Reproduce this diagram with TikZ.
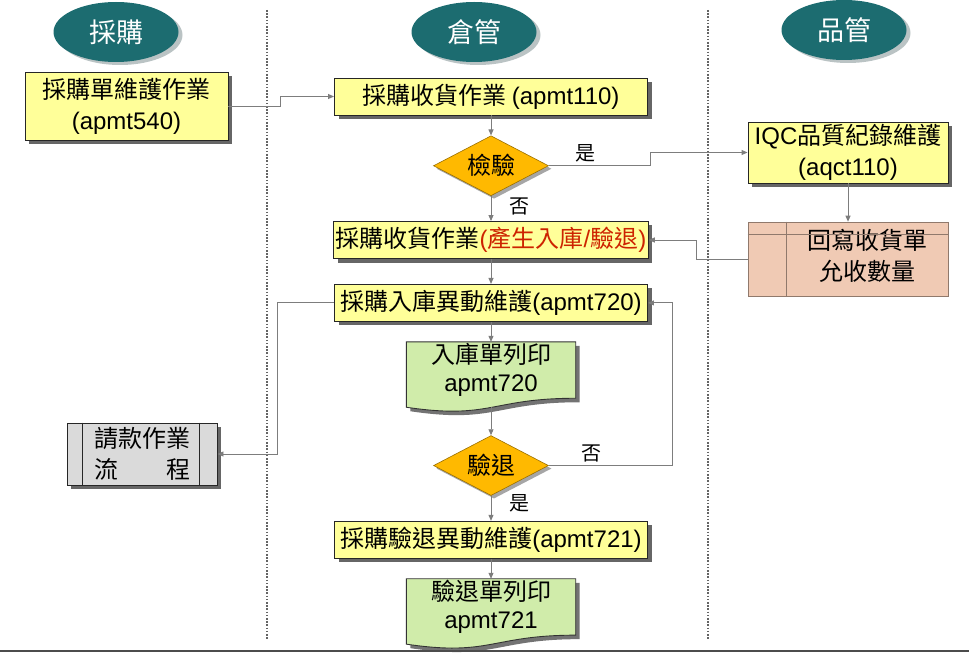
\documentclass[tikz,border=0pt]{standalone}
\usepackage{fontspec}
\setmainfont{Noto Sans CJK TC}
\newfontfamily\lat{Liberation Sans}
\usetikzlibrary{positioning,arrows.meta,shapes.geometric,shadows,calc,backgrounds}
\definecolor{FlowTeal}{RGB}{28,108,112}
\definecolor{FlowYellow}{RGB}{255,255,153}
\definecolor{FlowOrange}{RGB}{255,185,0}
\definecolor{FlowGreen}{RGB}{208,236,170}
\definecolor{FlowPink}{RGB}{240,202,180}
\definecolor{FlowGray}{RGB}{218,218,218}
\definecolor{FlowLine}{RGB}{125,125,125}
\definecolor{FlowRed}{RGB}{205,35,0}
\tikzset{
  flow shadow/.style={drop shadow={shadow xshift=4pt, shadow yshift=-4pt, fill=black!60, opacity=1}},
  flow box/.style={
    draw=black!85,
    line width=0.9pt,
    align=center,
    font=\fontsize{24}{31}\selectfont,
    inner sep=2pt
  },
  flow task/.style={flow box, fill=FlowYellow, flow shadow, minimum height=37pt},
  flow lane/.style={ellipse, fill=FlowTeal, text=white, minimum width=125pt, minimum height=60pt,
    font=\fontsize{27}{30}\selectfont,
    drop shadow={shadow xshift=4pt, shadow yshift=-3pt, fill=FlowTeal!25!gray!45, opacity=1}},
  flow gate/.style={diamond, aspect=1.9, fill=FlowOrange, draw=FlowOrange!60!black, line width=0.6pt,
    minimum width=115pt, minimum height=60pt, inner sep=0pt, font=\fontsize{24}{26}\selectfont,
    drop shadow={shadow xshift=3pt, shadow yshift=-3pt, fill=black!35, opacity=1}},
  flow doc/.style={minimum width=169pt, minimum height=56pt, align=center,
    font=\fontsize{24}{28}\selectfont, inner sep=0pt},
  flow arrow/.style={-{Triangle[length=6pt,width=5pt]}, FlowLine, line width=0.9pt},
  flow label/.style={font=\fontsize{20}{22}\selectfont},
  flow divider/.style={FlowLine!80!black, line width=1.6pt, dash pattern=on 1.6pt off 1.6pt}
}

\begin{document}
\begin{tikzpicture}[x=1pt,y=-1pt]
\useasboundingbox (0,0) rectangle (969,655);
% lanes
\draw[flow divider] (267,10) -- (267,640);
\draw[flow divider] (708,10) -- (708,640);
\node[flow lane] (lane1) at (116,32) {採購};
\node[flow lane] (lane2) at (474,32) {倉管};
\node[flow lane] (lane3) at (844,30) {品管};
% main column
\node[flow task, minimum width=313pt] (recv) at (491,96.5) {採購收貨作業 {\lat(apmt110)}};
\node[flow gate, below=20pt of recv] (chk) {檢驗};
\node[flow task, minimum width=313pt, below=25pt of chk] (recv2) {採購收貨作業\textcolor{FlowRed}{{\lat(}產生入庫{\lat/}驗退{\lat)}}};
\node[flow task, minimum width=313pt, below=25pt of recv2] (stock) {採購入庫異動維護{\lat(apmt720)}};
\node[flow doc, below=20pt of stock] (doc1) {入庫單列印\\{\lat apmt720}};
\node[flow gate, below=37pt of doc1] (ret) {驗退};
\node[flow task, minimum width=313pt, below=25pt of ret] (retm) {採購驗退異動維護{\lat(apmt721)}};
\node[flow doc, below=20pt of retm] (doc2) {驗退單列印\\{\lat apmt721}};
\coordinate (doc1 tail) at ($(doc1.south)+(0,9)$);
% side boxes
\node[flow task, minimum width=203pt, minimum height=68pt] (a540) at (126.5,106) {採購單維護作業\\{\lat(apmt540)}};
\node[flow task, minimum width=200pt, minimum height=61pt] (iqc) at (848,152.5) {{\lat IQC}品質紀錄維護\\{\lat(aqct110)}};
\node[flow box, fill=FlowPink, draw=FlowPink!60!black, line width=0.6pt, minimum width=200pt, minimum height=74pt]
  (wb) at (848,259) {\begin{tabular}{@{\hspace{38pt}}c@{}}回寫收貨單\\允收數量\end{tabular}};
\draw[FlowPink!60!black, line width=0.6pt] ([xshift=39pt]wb.north west) -- ([xshift=39pt]wb.south west);
\draw[FlowPink!60!black, line width=0.6pt] ([yshift=-13pt]wb.north west) -- ([yshift=-13pt]wb.north east);
\node[flow box, fill=FlowGray, flow shadow, minimum width=150pt, minimum height=62pt] (pay) at (142,454)
  {請款作業\\\makebox[4em]{流\hfill 程}};
\draw[black!85, line width=0.9pt] ([xshift=16pt]pay.north west) -- ([xshift=16pt]pay.south west);
\draw[black!85, line width=0.9pt] ([xshift=-18pt]pay.north east) -- ([xshift=-18pt]pay.south east);
% printed documents
\begin{scope}[on background layer]
\foreach \d in {doc1,doc2}{
  \path[fill=black!55] ($(\d.north west)+(4,4)$) -- ($(\d.north east)+(4,4)$) -- ($(\d.south east)+(4,4)$)
    .. controls ($(\d.south)+(4,4)$) and ($(\d.south)+(4,25.5)$) .. ($(\d.south west)+(4,13)$) -- cycle;
  \path[draw=black!80, line width=0.9pt, fill=FlowGreen] (\d.north west) -- (\d.north east) -- (\d.south east)
    .. controls (\d.south) and ($(\d.south)+(0,21.5)$) .. ($(\d.south west)+(0,9)$) -- cycle;
}
\end{scope}
% connectors
\draw[flow arrow] (a540.east) -- ++(52,0) |- (recv.west);
\draw[flow arrow] (recv) -- (chk);
\draw[flow arrow] (chk.east) -- ++(102,0) |- (iqc.west);
\draw[flow arrow] (chk) -- (recv2);
\draw[flow arrow] (iqc) -- (wb);
\draw[flow arrow] (wb.west) -- ++(-51,0) |- (recv2.east);
\draw[flow arrow] (recv2) -- (stock);
\draw[flow arrow] (stock) -- (doc1);
\draw[flow arrow] (doc1 tail) -- (ret);
\draw[flow arrow] (ret.east) -- ++(124,0) |- (stock.east);
\draw[flow arrow] (stock.west) -- ++(-57,0) |- (pay.east);
\draw[flow arrow] (ret) -- (retm);
\draw[flow arrow] (retm) -- (doc2);
% branch labels
\node[flow label] (yes1) at (585,153) {是};
\node[flow label] (no1) at (519,206) {否};
\node[flow label] (no2) at (591,453) {否};
\node[flow label] (yes2) at (519,503) {是};
% frame edge
\draw[black!70, line width=2pt] (0,651) -- (969,651);
\end{tikzpicture}
\end{document}
